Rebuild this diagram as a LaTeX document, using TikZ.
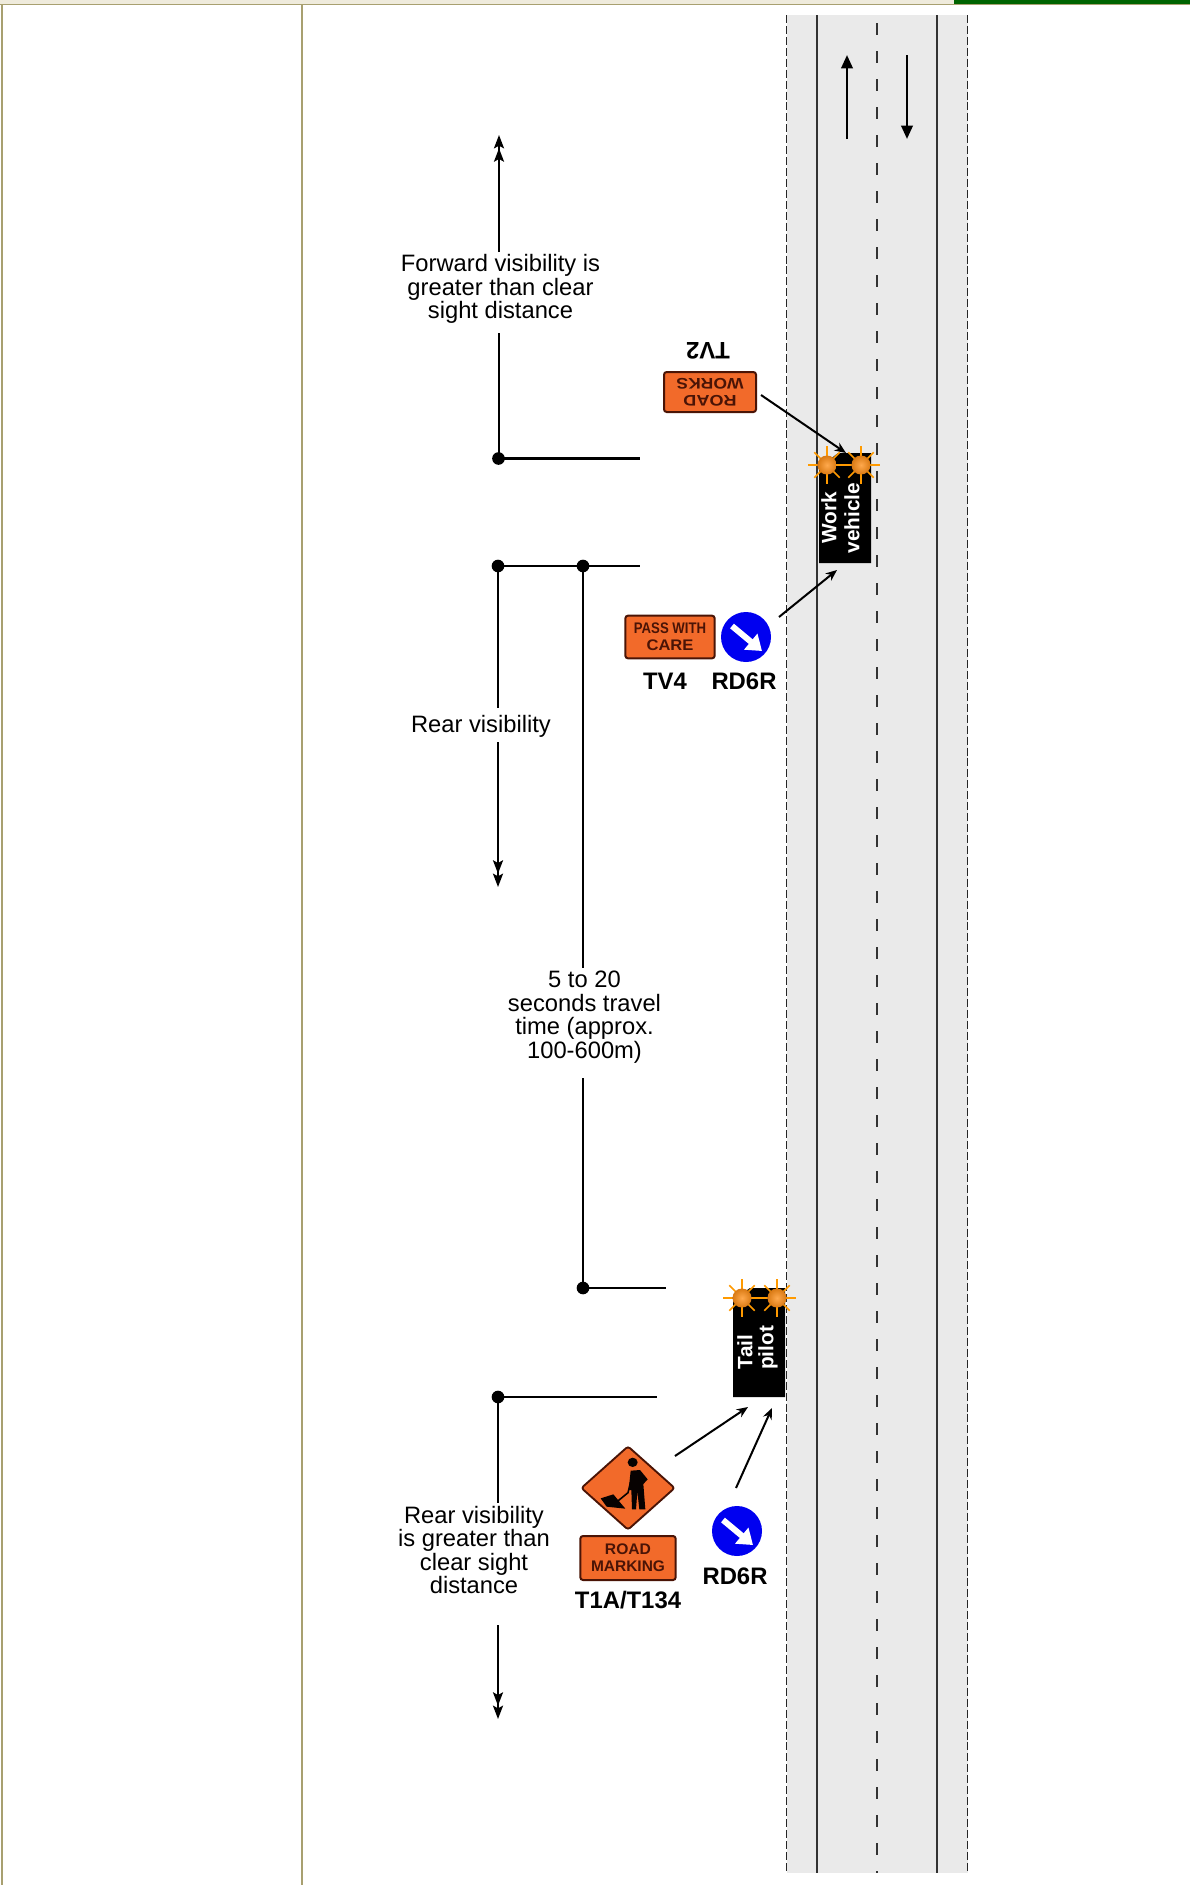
\documentclass[tikz,border=0pt]{standalone}
\usepackage{fontspec}
\setmainfont{Liberation Sans}
\usetikzlibrary{arrows.meta,shapes.geometric}
\definecolor{roadgrey}{HTML}{EAEAEA}
\definecolor{signorange}{HTML}{F26A2A}
\definecolor{signdark}{HTML}{4A1406}
\definecolor{tablebar}{HTML}{EFEBDC}
\definecolor{tableline}{HTML}{A8A070}
\definecolor{barGreen}{HTML}{006400}
\definecolor{raycolor}{HTML}{FF9A00}
\definecolor{signblue}{HTML}{0000F0}
\definecolor{lampin}{HTML}{FFA94D}
\definecolor{lampout}{HTML}{D97A14}
\tikzset{
  visline/.style={line width=1.6pt,black},
  visarrow/.style={visline,-{Stealth[length=10pt,width=7.5pt,inset=2pt]Stealth[length=10pt,width=7.5pt,inset=2pt]}},
  dirarrow/.style={line width=1.9pt,black,-{Stealth[length=10pt,width=8.5pt,inset=0pt]}},
  callout/.style={line width=1.5pt,black,-{Stealth[length=8.5pt,width=7pt]}},
  dotnode/.style={circle,fill=black,inner sep=0pt,minimum size=9.5pt},
  bodytext/.style={align=center,inner sep=0pt,font=\fontsize{17.8}{17.6}\selectfont},
  codelabel/.style={inner sep=0pt,font=\fontsize{17.9}{20}\selectfont\bfseries},
  vehicletext/.style={text=white,rotate=90,inner sep=0pt,font=\fontsize{15.6}{18}\selectfont\bfseries},
  signbox/.style={draw=signdark,fill=signorange,line width=1.5pt,rounded corners=2pt,align=center,inner sep=0pt,text=signdark,font=\fontsize{11.5}{13}\selectfont\bfseries},
  worksign/.style={diamond,draw=signdark,fill=signorange,line width=1.4pt,rounded corners=2pt,inner sep=0pt,minimum width=70.5pt,minimum height=63pt},
  rdsign/.style={circle,fill=signblue,inner sep=0pt,minimum size=37.5pt},
  rdarrow/.style={white,line width=4.5pt,-{Triangle[length=11pt,width=15pt]}},
  vehicle/.style={fill=black,draw=none},
  lamp/.pic={
    \foreach \a in {0,45,...,315}{\draw[raycolor,line width=1.2pt] (0,0) -- (\a:{mod(\a,90)==0 ? 19 : 18});}
    \shade[inner color=lampin,outer color=lampout] (0,0) circle (9.5);
  }
}
\begin{document}
\begin{tikzpicture}[x=0.75pt,y=-0.75pt]
\useasboundingbox (0,0) rectangle (1190,1885);
\fill[white] (0,0) rectangle (1190,1885);
% page frame
\fill[tablebar] (0,0) rectangle (1190,4);
\draw[tableline,line width=1.3pt] (0,4.5) -- (1190,4.5);
\fill[barGreen] (954,0) rectangle (1190,4);
\draw[tableline,line width=1pt] (2,5) -- (2,1885);
\draw[tableline,line width=1pt] (302,5) -- (302,1885);
% road
\fill[roadgrey] (786.5,15) rectangle (967.5,1873);
\draw[black!85,line width=.7pt,dash pattern=on 6pt off 2.2pt] (786.5,15) -- (786.5,1873);
\draw[black!85,line width=.7pt,dash pattern=on 6pt off 2.2pt] (967.5,15) -- (967.5,1873);
\draw[black!80,line width=.8pt] (817,15) -- (817,1873);
\draw[black!80,line width=.8pt] (937,15) -- (937,1873);
\draw[black!80,line width=.9pt,dash pattern=on 9pt off 12pt] (877,23) -- (877,1873);
% direction arrows
\coordinate (upA) at (847,139); \coordinate (upB) at (847,55);
\coordinate (dnA) at (907,55); \coordinate (dnB) at (907,139);
\draw[dirarrow] (upA) -- (upB);
\draw[dirarrow] (dnA) -- (dnB);
% forward visibility
\node[dotnode] (fvdot) at (498.5,458.5) {};
\coordinate (fvend) at (640,458.5);
\coordinate (fvtip) at (499,135);
\node[bodytext] (fvlabel) at (500.5,289) {Forward visibility is\\greater than clear\\sight distance};
\coordinate (fva) at (499,333); \coordinate (fvb) at (499,252);
\draw[visline] (fva) -- (499,458);
\draw[visarrow] (fvb) -- (fvtip);
\draw[visline] (fvdot.center) -- (fvend);
% rear visibility
\node[dotnode] (rvdot) at (498,566) {};
\node[dotnode] (stdot) at (583,566) {};
\coordinate (rvend) at (640,566);
\draw[visline] (rvdot.center) -- (rvend);
\node[bodytext] (rvlabel) at (481,726) {Rear visibility};
\coordinate (rva) at (498,708); \coordinate (rvb) at (498,742); \coordinate (rvtip) at (498,887);
\draw[visline] (rvdot.center) -- (rva);
\draw[visarrow] (rvb) -- (rvtip);
% 5 to 20 seconds
\node[bodytext] (stlabel) at (584.5,1017) {5 to 20\\seconds travel\\time (approx.\\100-600m)};
\node[dotnode] (sbdot) at (583,1288) {};
\coordinate (sta) at (583,968); \coordinate (stb) at (583,1078); \coordinate (sbend) at (666,1288);
\draw[visline] (stdot.center) -- (sta);
\draw[visline] (stb) -- (sbdot.center);
\draw[visline] (sbdot.center) -- (sbend);
% lower rear visibility
\node[dotnode] (lrdot) at (498,1397) {};
\coordinate (lrend) at (657,1397);
\draw[visline] (lrdot.center) -- (lrend);
\node[bodytext] (lrlabel) at (474,1550) {Rear visibility\\is greater than\\clear sight\\distance};
\coordinate (lra) at (498,1503); \coordinate (lrb) at (498,1625); \coordinate (lrtip) at (498,1719);
\draw[visline] (lrdot.center) -- (lra);
\draw[visarrow] (lrb) -- (lrtip);
% work vehicle
\fill[vehicle] (819,563) -- (819,468) -- (838,453) -- (871,453) -- (871,563) -- cycle;
\node[vehicletext] (worktext) at (829,518) {Work};
\node[vehicletext] (vehtext) at (852,518) {vehicle};
\coordinate (wvback) at (837,570);
\coordinate (wvfront) at (846,453);
\draw[raycolor,line width=1.2pt] (827,465) -- (861,465);
\pic at (827,465) {lamp};
\pic at (861,465) {lamp};
% tail pilot
\fill[vehicle] (733,1397) -- (733,1300) -- (750,1288) -- (785,1288) -- (785,1397) -- cycle;
\node[vehicletext] (tailtext) at (745,1352) {Tail};
\node[vehicletext] (pilottext) at (768,1348) {pilot};
\draw[raycolor,line width=1.2pt] (742,1298) -- (777,1298);
\pic at (742,1298) {lamp};
\pic at (777,1298) {lamp};
% TV2
\node[signbox,rotate=180,minimum width=69pt,minimum height=30pt] (tv2) at (710,392) {\scalebox{1.18}[1]{ROAD}\\\scalebox{1.14}[1]{WORKS}};
\node[codelabel,rotate=180] (tv2l) at (708,351) {TV2};
\coordinate (tv2out) at (761,395);
\draw[callout] (tv2out) -- (wvfront);
% TV4 and RD6R
\node[signbox,minimum width=67pt,minimum height=32pt] (tv4) at (670,637) {\scalebox{.86}[1]{PASS WITH}\\\scalebox{1.08}[1]{CARE}};
\node[rdsign] (rd1) at (746,637) {};
\draw[rdarrow] ([shift={(-14,-11)}]rd1.center) -- ([shift={(16,14)}]rd1.center);
\node[codelabel] (tv4l) at (665,681) {TV4};
\node[codelabel] (rd1l) at (744,681) {RD6R};
\coordinate (rd1out) at (779,617);
\draw[callout] (rd1out) -- (wvback);
% T1A
\node[worksign] (t1a) at (628,1488) {};
\begin{scope}[shift={(560,1260)},x=.25pt,y=-.25pt]
  \fill[black!90!signdark] (218,607) ellipse (15 and 14);
  \fill[black!90!signdark] (212,632) -- (240,630) -- (263,658) -- (250,672) -- (256,748) -- (238,748) -- (232,695) -- (228,748) -- (216,748) -- (214,690) -- (206,690) -- cycle;
  \draw[black!90!signdark,line width=1.2pt] (212,665) -- (204,698) -- (170,726);
  \fill[black!90!signdark] (122,715) -- (160,703) -- (196,746) -- (140,740) -- cycle;
\end{scope}
\node[signbox,minimum width=71.5pt,minimum height=33pt] (rm) at (628,1558) {\scalebox{1.02}[1]{ROAD}\\\scalebox{1.01}[1]{MARKING}};
\node[codelabel] (t1al) at (628,1600) {T1A/T134};
\node[rdsign] (rd2) at (737,1531) {};
\draw[rdarrow] ([shift={(-14,-11)}]rd2.center) -- ([shift={(16,14)}]rd2.center);
\node[codelabel] (rd2l) at (735,1576) {RD6R};
\coordinate (t1out) at (675,1456); \coordinate (t1in) at (748,1407);
\coordinate (rd2out) at (736,1488); \coordinate (rd2in) at (772,1408);
\draw[callout] (t1out) -- (t1in);
\draw[callout] (rd2out) -- (rd2in);
\end{tikzpicture}
\end{document}
